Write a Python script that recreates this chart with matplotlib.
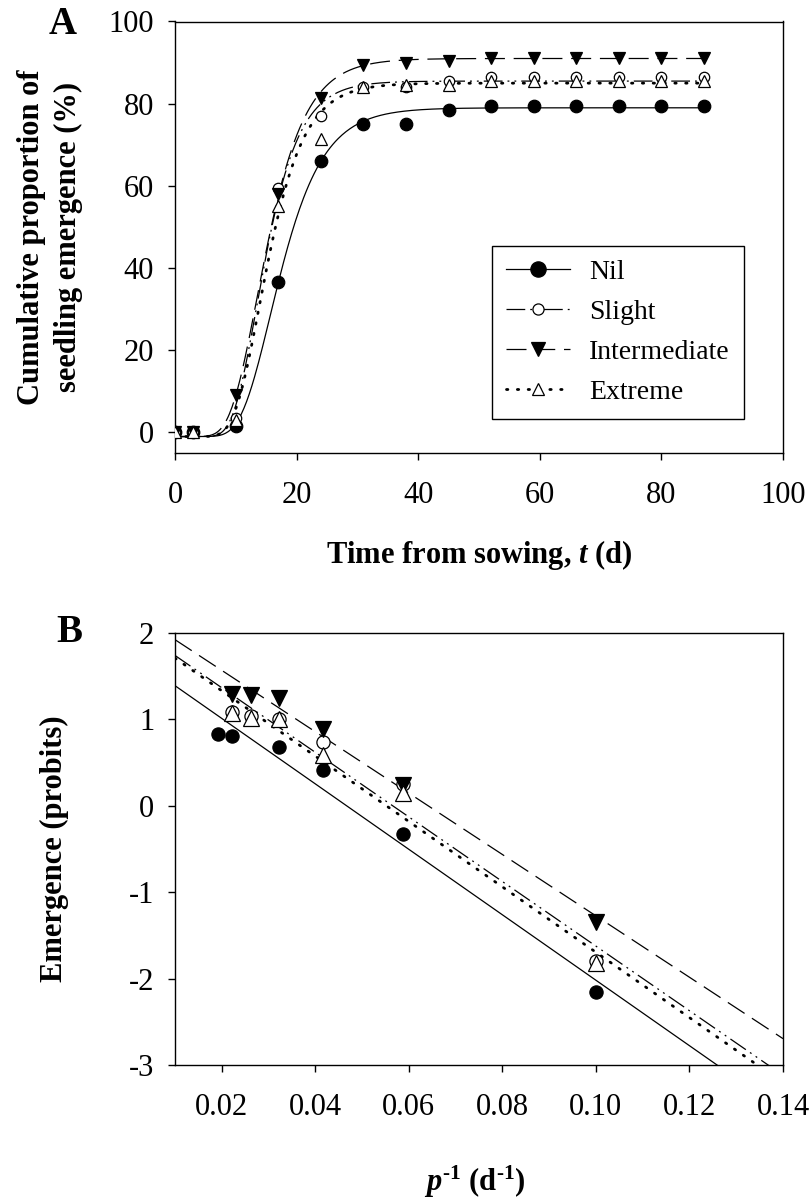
import matplotlib
matplotlib.use("Agg")
import matplotlib.pyplot as plt
from matplotlib.lines import Line2D
import numpy as np

plt.rcParams["font.family"] = ["Liberation Serif", "DejaVu Serif"]
plt.rcParams["mathtext.fontset"] = "custom"
plt.rcParams["mathtext.rm"] = "Liberation Serif:bold"
plt.rcParams["mathtext.it"] = "Liberation Serif:italic:bold"
plt.rcParams["mathtext.bf"] = "Liberation Serif:bold"
plt.rcParams["axes.unicode_minus"] = False

# ---- panel A: cumulative emergence (%) ----
days = [0, 3, 10, 17, 24, 31, 38, 45, 52, 59, 66, 73, 80, 87]
nil_pct = [0, 0, 1.5, 36.5, 66, 75, 75, 78.5, 79.5, 79.5, 79.5, 79.5, 79.5, 79.5]
slight_pct = [0, 0, 3.5, 59.5, 77, 84, 84, 85.5, 86.5, 86.5, 86.5, 86.5, 86.5, 86.5]
inter_pct = [0, 0, 9, 58, 81.5, 89.5, 90, 90.5, 91, 91, 91, 91, 91, 91]
extreme_pct = [0, 0, 3, 55, 71.5, 84, 84.5, 84.5, 85.5, 85.5, 85.5, 85.5, 85.5, 85.5]

# fitted sigmoid (Gompertz) parameters per treatment: Nil, Slight, Intermediate, Extreme
fit_asym = [80.0, 86.5, 92.0, 86.0]
fit_mid = [15.66, 13.45, 13.5, 13.85]
fit_scale = [4.82, 3.88, 4.4, 4.12]
fit_base = -1.0

# ---- panel B: probit emergence vs 1/p ----
inv_p_nil = [0.0192, 0.0222, 0.0323, 0.0417, 0.0588, 0.100]
inv_p = [0.0222, 0.0263, 0.0323, 0.0417, 0.0588, 0.100]
probit_nil = [0.83, 0.81, 0.68, 0.42, -0.33, -2.15]
probit_slight = [1.08, 1.04, 1.00, 0.74, 0.25, -1.80]
probit_inter = [1.29, 1.28, 1.25, 0.89, 0.24, -1.34]
probit_extreme = [1.07, 1.02, 1.00, 0.59, 0.15, -1.82]

# regression lines: intercept and slope per treatment
line_icpt = [1.769, 2.114, 2.278, 2.088]
line_slope = [-37.88, -37.38, -35.52, -37.83]

labels = ["Nil", "Slight", "Intermediate", "Extreme"]
styles = ["-", (0, (15, 4, 1.5, 4, 1.5, 4)), (0, (16, 7)), (0, (0.5, 3.4))]
widths = [0.9, 0.9, 0.9, 2.0]
caps = ["butt", "butt", "butt", "round"]
markers = ["o", "o", "v", "^"]
faces = ["black", "white", "black", "white"]

fig = plt.figure(figsize=(8.11, 12.02), dpi=100)
W, H = 811.0, 1202.0
axA = fig.add_axes([175 / W, 1 - 453 / H, 608 / W, 431.5 / H])
axB = fig.add_axes([175 / W, 1 - 1065 / H, 608 / W, 432 / H])

t = np.linspace(0, 87, 400)
a_data = [nil_pct, slight_pct, inter_pct, extreme_pct]
a_ms = [9, 7.5, 8.5, 8]
for i in range(4):
    y = fit_base + fit_asym[i] * np.exp(-np.exp(-(t - fit_mid[i]) / fit_scale[i]))
    axA.plot(t, y, color="black", lw=widths[i], linestyle=styles[i],
             dash_capstyle=caps[i], zorder=2)
for i in range(4):
    axA.plot(days, a_data[i], linestyle="none", marker=markers[i], ms=a_ms[i],
             mfc=faces[i], mec="black", mew=0.9, zorder=3 + i)

axA.set_xlim(0, 100)
axA.set_ylim(-5, 100)
axA.set_xticks([0, 20, 40, 60, 80, 100])
axA.set_yticks([0, 20, 40, 60, 80, 100])

leg_ms = [11, 8, 10, 9]
handles = [Line2D([0], [0], color="black", lw=widths[i], linestyle=styles[i],
                  dash_capstyle=caps[i], marker=markers[i], ms=leg_ms[i],
                  mfc=faces[i], mec="black", mew=0.9)
           for i in range(4)]
leg = axA.legend(handles, labels, loc="upper left", bbox_to_anchor=(0.521, 0.480),
                 borderaxespad=0, fontsize=20, frameon=True, fancybox=False,
                 edgecolor="black", framealpha=1, numpoints=1, handlelength=2.3,
                 handletextpad=0.7, labelspacing=0.52, borderpad=0.5)
leg.get_frame().set_linewidth(1.0)

# panel B
xl = np.array([0.01, 0.14])
for i in range(4):
    axB.plot(xl, line_icpt[i] + line_slope[i] * xl, color="black", lw=widths[i],
             linestyle=styles[i], dash_capstyle=caps[i], zorder=2)
b_x = [inv_p_nil, inv_p, inv_p, inv_p]
b_y = [probit_nil, probit_slight, probit_inter, probit_extreme]
b_ms = [9.5, 9.5, 11, 11]
for i in range(4):
    axB.plot(b_x[i], b_y[i], linestyle="none", marker=markers[i], ms=b_ms[i],
             mfc=faces[i], mec="black", mew=0.9, zorder=3 + i)

axB.set_xlim(0.01, 0.14)
axB.set_ylim(-3, 2)
axB.set_xticks([0.02, 0.04, 0.06, 0.08, 0.10, 0.12, 0.14])
axB.set_xticklabels(["0.02", "0.04", "0.06", "0.08", "0.10", "0.12", "0.14"])
axB.set_yticks([-3, -2, -1, 0, 1, 2])

for ax in (axA, axB):
    for s in ax.spines.values():
        s.set_linewidth(1.0)
    ax.tick_params(axis="both", direction="out", length=5, width=1.0, labelsize=22)
    ax.tick_params(axis="x", pad=15)
    ax.tick_params(axis="y", pad=10)

fig.text(50 / W, 1 - 237 / H, "Cumulative proportion of\nseedling emergence (%)",
         rotation=90, ha="center", va="center", fontsize=22, fontweight="bold",
         multialignment="center", linespacing=1.35)
fig.text(479 / W, 1 - 555 / H, "Time from sowing, $t$ (d)", ha="center", va="center",
         fontsize=22, fontweight="bold")
fig.text(54 / W, 1 - 849 / H, "Emergence (probits)", rotation=90, ha="center",
         va="center", fontsize=22, fontweight="bold")
fig.text(475 / W, 1 - 1182 / H, "$p^{\\mathbf{\u20101}}$ (d$^{\\mathbf{\u20101}}$)",
         ha="center", va="center", fontsize=22, fontweight="bold")

fig.text(63 / W, 1 - 24 / H, "A", ha="center", va="center", fontsize=28, fontweight="bold")
fig.text(69 / W, 1 - 633 / H, "B", ha="center", va="center", fontsize=28, fontweight="bold")

fig.savefig("out.png", dpi=100)
